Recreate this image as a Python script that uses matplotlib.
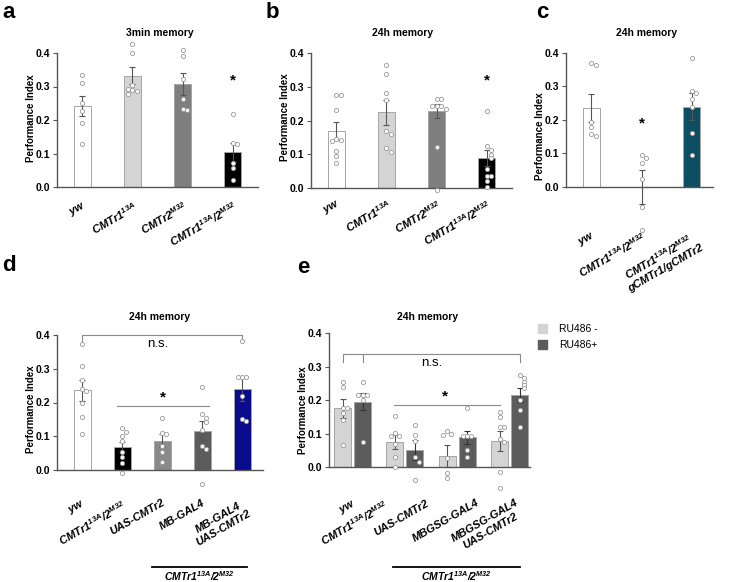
import numpy as np
import matplotlib.pyplot as plt
from matplotlib.patches import Patch
from matplotlib.lines import Line2D

plt.rcParams['font.family'] = ['Liberation Sans', 'DejaVu Sans']
plt.rcParams['mathtext.fontset'] = 'custom'
plt.rcParams['mathtext.rm'] = 'Liberation Sans:bold:italic'
plt.rcParams['mathtext.it'] = 'Liberation Sans:bold:italic'
plt.rcParams['mathtext.bf'] = 'Liberation Sans:bold:italic'

# ---- data ----
a_labels = ['$yw$', '$CMTr1^{13A}$', '$CMTr2^{M32}$', '$CMTr1^{13A}/2^{M32}$']
a_means = [0.242, 0.332, 0.308, 0.103]
a_sem = [0.030, 0.026, 0.032, 0.028]
a_points = [[0.335, 0.31, 0.252, 0.228, 0.192, 0.128],
            [0.426, 0.40, 0.305, 0.29, 0.288, 0.292, 0.278],
            [0.41, 0.392, 0.322, 0.262, 0.233, 0.23],
            [0.218, 0.132, 0.127, 0.072, 0.057, 0.022]]

b_labels = a_labels
b_means = [0.170, 0.225, 0.229, 0.089]
b_sem = [0.027, 0.037, 0.020, 0.025]
b_points = [[0.275, 0.275, 0.232, 0.145, 0.143, 0.140, 0.110, 0.096, 0.074],
            [0.365, 0.338, 0.281, 0.262, 0.168, 0.161, 0.118, 0.106],
            [0.264, 0.264, 0.244, 0.244, 0.244, 0.234, 0.123, -0.007],
            [0.230, 0.125, 0.112, 0.099, 0.089, 0.056, 0.037, 0.037, 0.020, 0.002]]

c_labels = ['$yw$', '$CMTr1^{13A}/2^{M32}$', '$CMTr1^{13A}/2^{M32}$\ngCMTr1/gCMTr2']
c_means = [0.235, 0.0, 0.239]
c_sem = [0.042, 0.051, 0.041]
c_points = [[0.368, 0.363, 0.192, 0.177, 0.157, 0.151],
            [0.095, 0.085, 0.072, 0.023, -0.062, -0.128],
            [0.383, 0.286, 0.279, 0.262, 0.239, 0.161, 0.094]]

d_labels = ['$yw$', '$CMTr1^{13A}/2^{M32}$', 'UAS-CMTr2', 'MB-GAL4', 'MB-GAL4\nUAS-CMTr2']
d_means = [0.236, 0.067, 0.087, 0.116, 0.240]
d_sem = [0.031, 0.015, 0.020, 0.028, 0.035]
d_points = [[0.373, 0.309, 0.267, 0.24, 0.235, 0.198, 0.156, 0.106],
            [0.125, 0.114, 0.1, 0.087, 0.054, 0.038, 0.02, -0.01],
            [0.155, 0.109, 0.107, 0.071, 0.052, 0.023],
            [0.247, 0.166, 0.155, 0.143, 0.12, 0.071, 0.061, -0.041],
            [0.383, 0.275, 0.275, 0.275, 0.219, 0.15, 0.146]]

e_labels = ['$yw$', '$CMTr1^{13A}/2^{M32}$', 'UAS-CMTr2', 'MBGSG-GAL4', 'MBGSG-GAL4\nUAS-CMTr2']
e_minus_means = [0.176, 0.075, 0.034, 0.079]
e_minus_sem = [0.028, 0.021, 0.033, 0.030]
e_plus_means = [0.196, 0.052, 0.089, 0.216]
e_plus_sem = [0.026, 0.030, 0.020, 0.020]
e_minus_points = [[0.254, 0.241, 0.176, 0.176, 0.161, 0.141, 0.067],
                  [0.153, 0.103, 0.094, 0.094, 0.069, 0.032, 0.0],
                  [0.107, 0.1, 0.097, 0.027, -0.016, -0.033],
                  [0.166, 0.149, 0.121, 0.121, 0.085, 0.077, -0.013, -0.063]]
e_plus_points = [[0.256, 0.216, 0.216, 0.216, 0.201, 0.077],
                 [0.126, 0.097, 0.08, 0.03, 0.017, -0.038],
                 [0.176, 0.094, 0.094, 0.094, 0.052, 0.032],
                 [0.276, 0.266, 0.256, 0.246, 0.236, 0.201, 0.171, 0.121]]

W, H = 729, 582
fig = plt.figure(figsize=(W / 100, H / 100), dpi=100)


def make_ax(x0, x1, y_zero, y_top, xlim, ylim, pad):
    # x0/x1: pixel extent, y_zero/y_top: pixel rows of 0.0 and 0.4
    ppu = (y_zero - y_top) / 0.4
    bot = y_zero + (0 - ylim[0]) * ppu
    top = y_zero - ylim[1] * ppu
    ax = fig.add_axes([x0 / W, 1 - bot / H, (x1 - x0) / W, (bot - top) / H])
    ax.set_xlim(xlim)
    ax.set_ylim(ylim)
    for s in ['top', 'right']:
        ax.spines[s].set_visible(False)
    ax.spines['left'].set_bounds(0, 0.4)
    ax.spines['bottom'].set_position(('data', 0))
    for s in ['left', 'bottom']:
        ax.spines[s].set_color('#555555')
        ax.spines[s].set_linewidth(1.0)
    ax.set_yticks([0, 0.1, 0.2, 0.3, 0.4])
    ax.set_yticklabels(['0.0', '0.1', '0.2', '0.3', '0.4'], fontsize=7.5, fontweight='bold')
    ax.tick_params(axis='y', length=3, width=0.8, color='#555555', pad=2)
    ax.tick_params(axis='x', length=0, pad=pad)
    ax.set_ylabel('Performance Index', fontsize=7, fontweight='bold', labelpad=0)
    ax.patch.set_visible(False)
    return ax


def swarm(vals, center, step=0.09, tol=0.013):
    xs = []
    placed = []
    for v in vals:
        k = sum(1 for p in placed if abs(p - v) < tol)
        off = ((k + 1) // 2) * step * (1 if k % 2 else -1)
        xs.append(center + off)
        placed.append(v)
    return xs


def draw_bars(ax, pos, means, sems, points, colors, width):
    ax.bar(pos, means, width, color=colors, edgecolor='#a5a5a5', linewidth=0.7, zorder=2)
    ax.errorbar(pos, means, yerr=sems, fmt='none', ecolor='#555555',
                elinewidth=0.8, capsize=2.5, capthick=0.8, zorder=3)
    for p, vals in zip(pos, points):
        ax.scatter(swarm(vals, p), vals, s=9, facecolor='white', edgecolor='#999999',
                   linewidth=0.6, zorder=4, clip_on=False)


def xlabels(ax, pos, labels):
    ax.set_xticks(pos)
    ax.set_xticklabels(labels, rotation=30, ha='right', va='top', rotation_mode='anchor',
                       fontsize=8, fontweight='bold', style='italic', multialignment='center')


# ---- a ----
ax = make_ax(57, 258, 187, 53, (-0.5, 3.5), (-0.04, 0.45), 9)
pos = np.arange(4)
draw_bars(ax, pos, a_means, a_sem, a_points, ['white', '#d4d4d4', '#7f7f7f', 'black'], 0.34)
xlabels(ax, pos, a_labels)
ax.text(3, 0.317, '*', ha='center', va='center', fontsize=11, fontweight='bold')

# ---- b ----
ax = make_ax(311, 512, 188, 53.3, (-0.5, 3.5), (-0.03, 0.45), 7)
draw_bars(ax, pos, b_means, b_sem, b_points, ['white', '#d4d4d4', '#7f7f7f', 'black'], 0.34)
xlabels(ax, pos, b_labels)
ax.text(3, 0.32, '*', ha='center', va='center', fontsize=11, fontweight='bold')

# ---- c ----
ax = make_ax(566, 713, 186.7, 52.7, (-0.5, 2.42), (-0.15, 0.45), 31)
pos3 = np.arange(3)
draw_bars(ax, pos3, c_means, c_sem, c_points, ['white', 'white', '#0d4e63'], 0.34)
xlabels(ax, pos3, c_labels)
ax.text(1, 0.19, '*', ha='center', va='center', fontsize=11, fontweight='bold')

# ---- d ----
ax = make_ax(57, 263, 470, 335, (-0.625, 4.525), (-0.06, 0.42), 20)
pos5 = np.arange(5)
draw_bars(ax, pos5, d_means, d_sem, d_points,
          ['white', 'black', '#8a8a8a', '#5c5c5c', '#0a0a8c'], 0.425)
xlabels(ax, pos5, d_labels)
ax.plot([0, 0, 4, 4], [0.378, 0.4, 0.4, 0.378], color='#8a8a8a', lw=0.8, clip_on=False)
ax.text(1.9, 0.392, 'n.s.', ha='center', va='top', fontsize=9.5)
ax.plot([0.88, 3.18], [0.19, 0.19], color='#8a8a8a', lw=0.8)
ax.text(2.02, 0.216, '*', ha='center', va='center', fontsize=11, fontweight='bold')

# ---- e ----
ax = make_ax(329, 530, 467.3, 333.3, (-0.45, 3.39), (-0.08, 0.42), 22)
grp = np.arange(4)
ax.bar(grp - 0.19, e_minus_means, 0.325, color='#d4d4d4', edgecolor='#a5a5a5', linewidth=0.7, zorder=2)
ax.bar(grp + 0.19, e_plus_means, 0.325, color='#5c5c5c', edgecolor='#a5a5a5', linewidth=0.7, zorder=2)
ax.errorbar(grp - 0.19, e_minus_means, yerr=e_minus_sem, fmt='none', ecolor='#555555',
            elinewidth=0.8, capsize=2.5, capthick=0.8, zorder=3)
ax.errorbar(grp + 0.19, e_plus_means, yerr=e_plus_sem, fmt='none', ecolor='#333333',
            elinewidth=0.8, capsize=2.5, capthick=0.8, zorder=3)
for g in grp:
    for off, vals in [(-0.19, e_minus_points[g]), (0.19, e_plus_points[g])]:
        ax.scatter(swarm(vals, g + off, step=0.08), vals, s=9, facecolor='white',
                   edgecolor='#999999', linewidth=0.6, zorder=4, clip_on=False)
ax.set_xticks([0, 0.6, 1.4, 2.35, 3.1])
ax.set_xticklabels(e_labels, rotation=30, ha='right', va='top', rotation_mode='anchor',
                   fontsize=8, fontweight='bold', style='italic', multialignment='center')
ax.plot([-0.19, -0.19, 3.19, 3.19], [0.315, 0.338, 0.338, 0.315], color='#8a8a8a', lw=0.8)
ax.plot([0.19, 0.19], [0.315, 0.338], color='#8a8a8a', lw=0.8)
ax.text(1.52, 0.33, 'n.s.', ha='center', va='top', fontsize=9.5)
ax.plot([0.79, 2.82], [0.186, 0.186], color='#8a8a8a', lw=0.8)
ax.text(1.77, 0.21, '*', ha='center', va='center', fontsize=11, fontweight='bold')
ax.legend(handles=[Patch(facecolor='#d4d4d4', edgecolor='#d4d4d4', label='RU486 -'),
                   Patch(facecolor='#5c5c5c', edgecolor='#5c5c5c', label='RU486+')],
          loc='upper left', bbox_to_anchor=(538 / W, 1 - 324 / H), bbox_transform=fig.transFigure,
          frameon=False, fontsize=7.5, handlelength=0.9, handleheight=0.9,
          handletextpad=1.1, labelspacing=0.6, borderaxespad=0, borderpad=0)

# ---- titles, panel letters, genotype bars ----
for x, y, t in [(160, 33, '3min memory'), (403, 33, '24h memory'), (647, 33, '24h memory'),
                (160, 317, '24h memory'), (428, 317, '24h memory')]:
    fig.text(x / W, 1 - y / H, t, ha='center', va='center', fontsize=7.5, fontweight='bold')
for x, y, t in [(2, 2, 'a'), (266, 2, 'b'), (536, 2, 'c'), (2, 255, 'd'), (297, 257, 'e')]:
    fig.text(x / W, 1 - y / H, t, ha='left', va='top', fontsize=16, fontweight='bold')
for x0, x1 in [(152, 247), (393, 520)]:
    fig.add_artist(Line2D([x0 / W, x1 / W], [1 - 567 / H, 1 - 567 / H], color='black', lw=1.3))
    fig.text((x0 + x1) / 2 / W, 1 - 569 / H, '$CMTr1^{13A}/2^{M32}$', ha='center', va='top',
             fontsize=7.5)

fig.savefig('out.png', dpi=100)
